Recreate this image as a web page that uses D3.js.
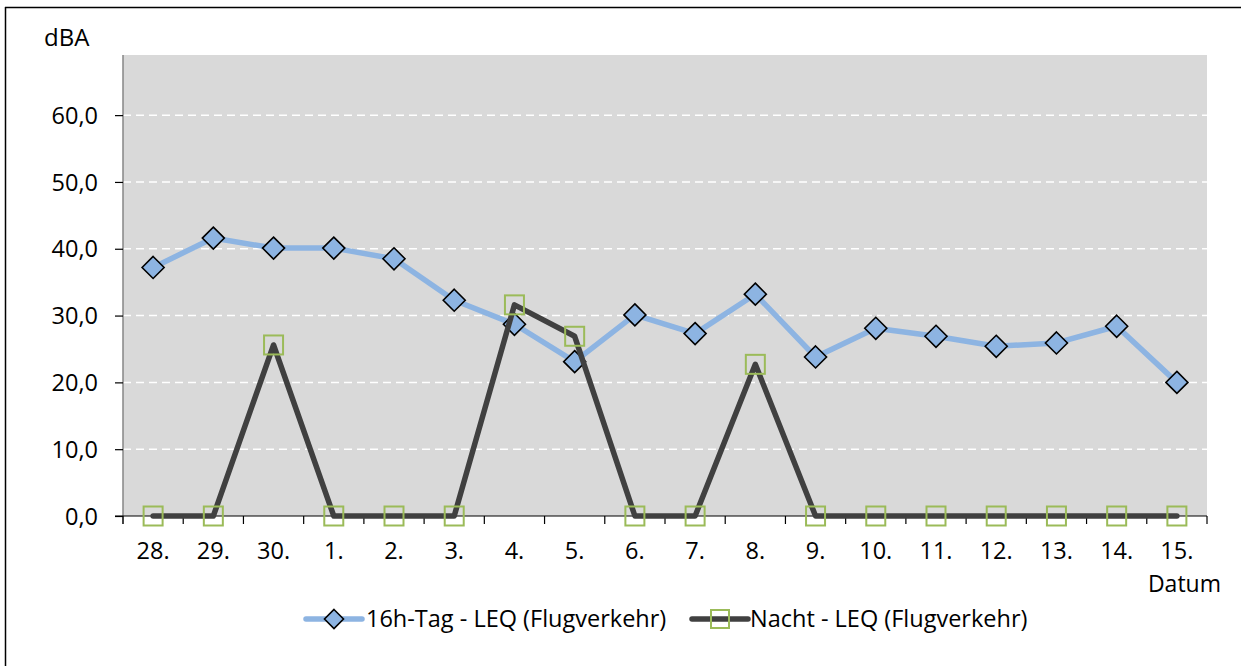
<!DOCTYPE html>
<html><head><meta charset="utf-8">
<script src="https://cdn.jsdelivr.net/npm/d3@7/dist/d3.min.js"></script>
<style>body{margin:0;background:#fff;} svg{display:block;} text{font-family:"Open Sans",sans-serif;fill:#000;}</style>
</head><body><svg id="c" width="1241" height="666"></svg>
<script>
const categories = ["28.","29.","30.","1.","2.","3.","4.","5.","6.","7.","8.","9.","10.","11.","12.","13.","14.","15."];
const dayValues = [37.2,41.6,40.1,40.1,38.5,32.3,28.7,23.1,30.1,27.3,33.2,23.8,28.1,26.9,25.4,25.9,28.4,20.0];
const nightValues = [0,0,25.6,0,0,0,31.6,26.9,0,0,22.7,0,0,0,0,0,0,0];
const yTicks = [0,10,20,30,40,50,60];
const seriesNames = ["16h-Tag - LEQ (Flugverkehr)","Nacht - LEQ (Flugverkehr)"];

const svg = d3.select("#c");
const L = 123, R = 1207, T = 55, B = 516;
const FS = "23.5px";
const x = d3.scaleBand().domain(categories).range([L, R]);
const y = d3.scaleLinear().domain([0, 69]).range([B, T]);
const fmt = v => d3.format(".1f")(v).replace(".", ",");

// outer frame (top and left only visible)
svg.append("line").attr("x1",5).attr("x2",1241).attr("y1",7.5).attr("y2",7.5).attr("stroke","#000").attr("stroke-width",1.5);
svg.append("line").attr("x1",5.5).attr("x2",5.5).attr("y1",7).attr("y2",666).attr("stroke","#000").attr("stroke-width",1.5);

// plot background
svg.append("rect").attr("x",L).attr("y",T).attr("width",R-L).attr("height",B-T).attr("fill","#d9d9d9");

// grid
svg.append("g").selectAll("line").data(yTicks.filter(d=>d>0)).join("line")
  .attr("x1",L).attr("x2",R).attr("y1",d=>y(d)).attr("y2",d=>y(d))
  .attr("stroke","#fff").attr("stroke-width",1.5).attr("stroke-dasharray","8,5");

// y axis
const yAxis = d3.axisLeft(y).tickValues(yTicks).tickFormat(fmt).tickSize(8).tickPadding(17);
const gy = svg.append("g").attr("transform",`translate(${L},0)`).call(yAxis);
gy.select(".domain").attr("stroke","#868686").attr("stroke-width",1.5).attr("d",`M0,${T}V${B+8}`);
gy.selectAll(".tick line").attr("stroke","#000").attr("stroke-width",1.2);
gy.selectAll(".tick text").style("font-size",FS).attr("fill","#000").attr("dy","0.35em");

// x axis
const gx = svg.append("g").attr("transform",`translate(0,${B})`);
gx.append("line").attr("x1",L-8).attr("x2",R).attr("y1",0).attr("y2",0).attr("stroke","#000").attr("stroke-width",1.2);
const bounds = categories.map(c=>x(c)).concat([R]);
gx.selectAll("line.tk").data(bounds).join("line").attr("class","tk")
  .attr("x1",d=>d).attr("x2",d=>d).attr("y1",0).attr("y2",8).attr("stroke","#000").attr("stroke-width",1.2);
gx.selectAll("text").data(categories).join("text")
  .attr("x",d=>x(d)+x.bandwidth()/2).attr("y",43).attr("text-anchor","middle")
  .style("font-size",FS).text(d=>d);

// axis titles
svg.append("text").attr("x",44).attr("y",46).style("font-size","24px").text("dBA");
svg.append("text").attr("x",1221).attr("y",592).attr("text-anchor","end").style("font-size","23px").text("Datum");

const cx = (d,i) => x(categories[i]) + x.bandwidth()/2;
const line = d3.line().x((d,i)=>cx(d,i)).y(d=>y(d));

// day series
svg.append("path").datum(dayValues).attr("d",line).attr("fill","none")
  .attr("stroke","#8db4e2").attr("stroke-width",5.5).attr("stroke-linejoin","round").attr("stroke-linecap","round");
const dia = 11;
svg.append("g").selectAll("path").data(dayValues).join("path")
  .attr("d",(d,i)=>{const X=cx(d,i),Y=y(d);return `M${X},${Y-dia}L${X+dia},${Y}L${X},${Y+dia}L${X-dia},${Y}Z`;})
  .attr("fill","#8db4e2").attr("stroke","#000").attr("stroke-width",1.6);

// night series
svg.append("path").datum(nightValues).attr("d",line).attr("fill","none")
  .attr("stroke","#404040").attr("stroke-width",5.5).attr("stroke-linejoin","round").attr("stroke-linecap","round");
const sq = 9.5;
svg.append("g").selectAll("rect").data(nightValues).join("rect")
  .attr("x",(d,i)=>cx(d,i)-sq).attr("y",d=>y(d)-sq).attr("width",2*sq).attr("height",2*sq)
  .attr("fill","none").attr("stroke","#9bbb59").attr("stroke-width",2);

// legend
const lg = svg.append("g");
const ly = 619;
lg.append("line").attr("x1",306).attr("x2",362).attr("y1",ly).attr("y2",ly).attr("stroke","#8db4e2").attr("stroke-width",5.5).attr("stroke-linecap","round");
lg.append("path").attr("d",`M334,${ly-9.5}L343.5,${ly}L334,${ly+9.5}L324.5,${ly}Z`).attr("fill","#8db4e2").attr("stroke","#000").attr("stroke-width",1.6);
lg.append("text").attr("x",366).attr("y",ly).attr("dy","0.35em").style("font-size",FS).text(seriesNames[0]);
lg.append("line").attr("x1",692).attr("x2",748).attr("y1",ly).attr("y2",ly).attr("stroke","#404040").attr("stroke-width",5.5).attr("stroke-linecap","round");
lg.append("rect").attr("x",711).attr("y",ly-9).attr("width",18).attr("height",18).attr("fill","none").attr("stroke","#9bbb59").attr("stroke-width",2);
lg.append("text").attr("x",750).attr("y",ly).attr("dy","0.35em").style("font-size",FS).text(seriesNames[1]);
</script></body></html>
